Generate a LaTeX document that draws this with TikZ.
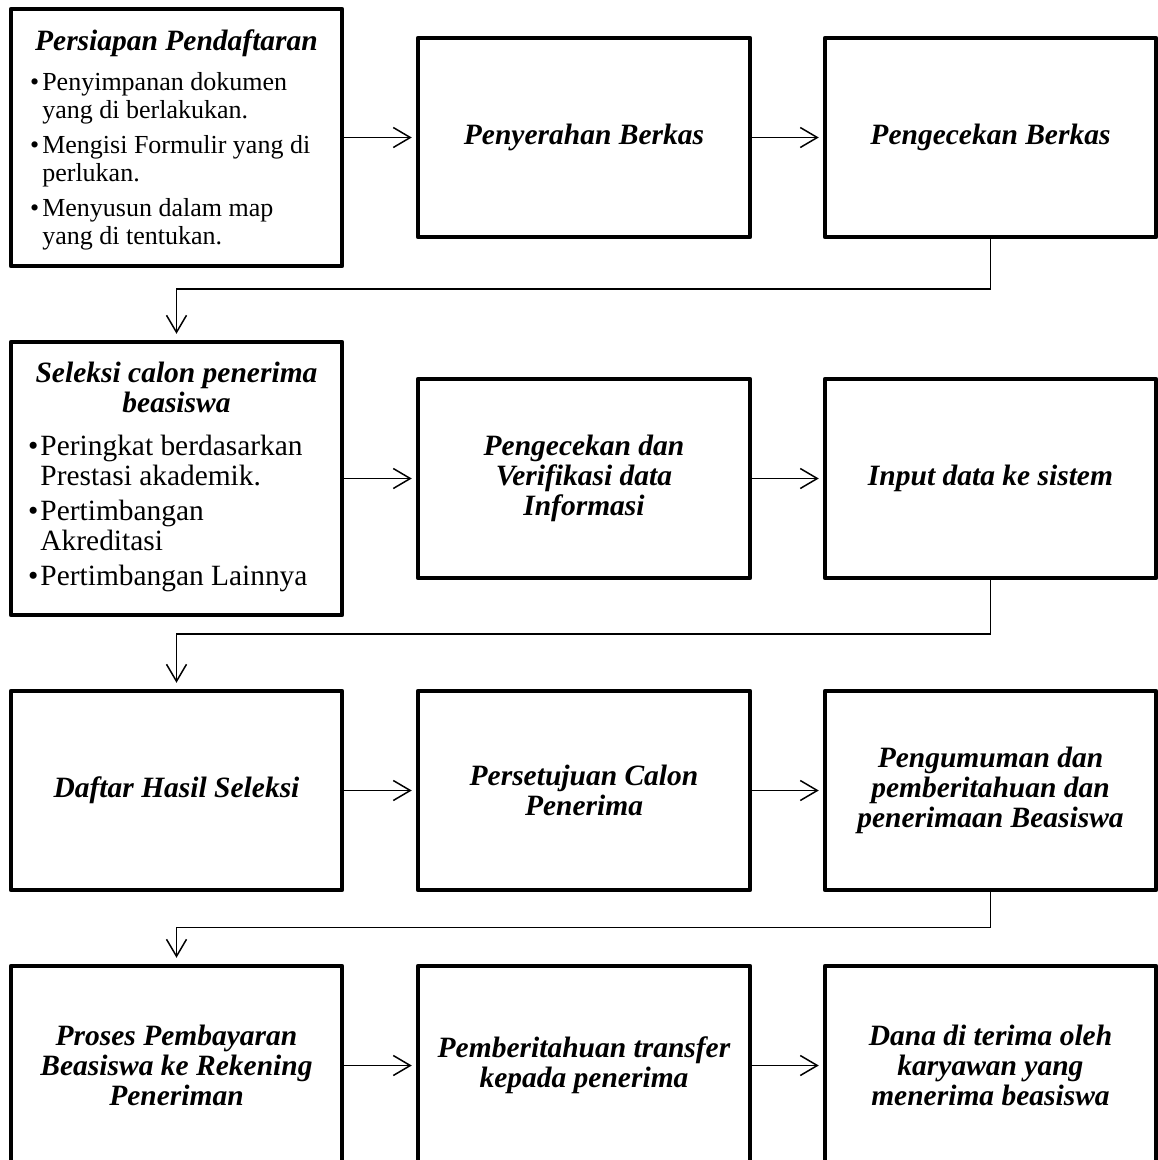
\documentclass[tikz,border=0pt]{standalone}
\usepackage{fontspec}
\setmainfont{Liberation Serif}
\usetikzlibrary{arrows.meta}
\begin{document}
\begin{tikzpicture}[x=1pt,y=-1pt,
  stepbox/.style={draw, line width=4.5pt, line join=round, inner sep=0pt, outer sep=2.25pt,
    minimum width=331pt, minimum height=199pt,
    font=\fontsize{29.5}{30}\selectfont\bfseries\itshape, align=center},
  headtext/.style={inner sep=0pt, anchor=base, font=\fontsize{29.5}{30}\selectfont\bfseries\itshape},
  listtext/.style={inner sep=0pt, anchor=base west},
  arr/.style={line width=1.5pt, -{Straight Barb[length=17pt,width=20pt]}, shorten >=4pt}]
\useasboundingbox (0,0) rectangle (1158,1160);

% row 1
\node[stepbox, minimum height=257pt] (r1c1) at (176.5,137.5) {};
\node[headtext] (r1c1t) at (176.5,50) {Persiapan Pendaftaran};
\node[listtext, font=\fontsize{26}{28}\selectfont] (r1c1l) at (30,90)
  {\begin{tabular}[t]{@{}l@{\hspace{3pt}}l@{}}
   \textbullet & Penyimpanan dokumen\\
               & yang di berlakukan.\\[7pt]
   \textbullet & Mengisi Formulir yang di\\
               & perlukan.\\[7pt]
   \textbullet & Menyusun dalam map\\
               & yang di tentukan.
   \end{tabular}};
\node[stepbox, minimum width=332pt] (r1c2) at (584,137.5) {Penyerahan Berkas};
\node[stepbox] (r1c3) at (990.5,137.5) {Pengecekan Berkas};

% row 2
\node[stepbox, minimum height=273pt] (r2c1) at (176.5,478.5) {};
\node[headtext] (r2c1t) at (176.5,382)
  {\begin{tabular}[t]{@{}c@{}}Seleksi calon penerima\\beasiswa\end{tabular}};
\node[listtext, font=\fontsize{29.4}{30}\selectfont] (r2c1l) at (28,455)
  {\begin{tabular}[t]{@{}l@{\hspace{2pt}}l@{}}
   \textbullet & Peringkat berdasarkan\\
               & Prestasi akademik.\\[5pt]
   \textbullet & Pertimbangan\\
               & Akreditasi\\[5pt]
   \textbullet & Pertimbangan Lainnya
   \end{tabular}};
\node[stepbox, minimum width=332pt] (r2c2) at (584,478.5) {Pengecekan dan\\Verifikasi data\\Informasi};
\node[stepbox] (r2c3) at (990.5,478.5) {Input data ke sistem};

% row 3
\node[stepbox] (r3c1) at (176.5,790.5) {Daftar Hasil Seleksi};
\node[stepbox, minimum width=332pt] (r3c2) at (584,790.5) {Persetujuan Calon\\Penerima};
\node[stepbox] (r3c3) at (990.5,790.5) {Pengumuman dan\\pemberitahuan dan\\penerimaan Beasiswa};

% row 4
\node[stepbox] (r4c1) at (176.5,1065.5) {Proses Pembayaran\\Beasiswa ke Rekening\\Peneriman};
\node[stepbox, minimum width=332pt] (r4c2) at (584,1065.5) {Pemberitahuan transfer\\kepada penerima};
\node[stepbox] (r4c3) at (990.5,1065.5) {Dana di terima oleh\\karyawan yang\\menerima beasiswa};

% arrows within rows
\foreach \r in {1,2,3,4}{
  \draw[arr] (r\r c1.east) -- (r\r c2.west);
  \draw[arr] (r\r c2.east) -- (r\r c3.west);
}

% elbow connectors between rows
\coordinate (k1) at (990.5,289);
\coordinate (k2) at (990.5,634);
\coordinate (k3) at (990.5,927.5);
\draw[arr, shorten >=6pt] (r1c3.south) -- (k1) -| (r2c1.north);
\draw[arr, shorten >=6pt] (r2c3.south) -- (k2) -| (r3c1.north);
\draw[arr, shorten >=6pt] (r3c3.south) -- (k3) -| (r4c1.north);
\end{tikzpicture}
\end{document}
